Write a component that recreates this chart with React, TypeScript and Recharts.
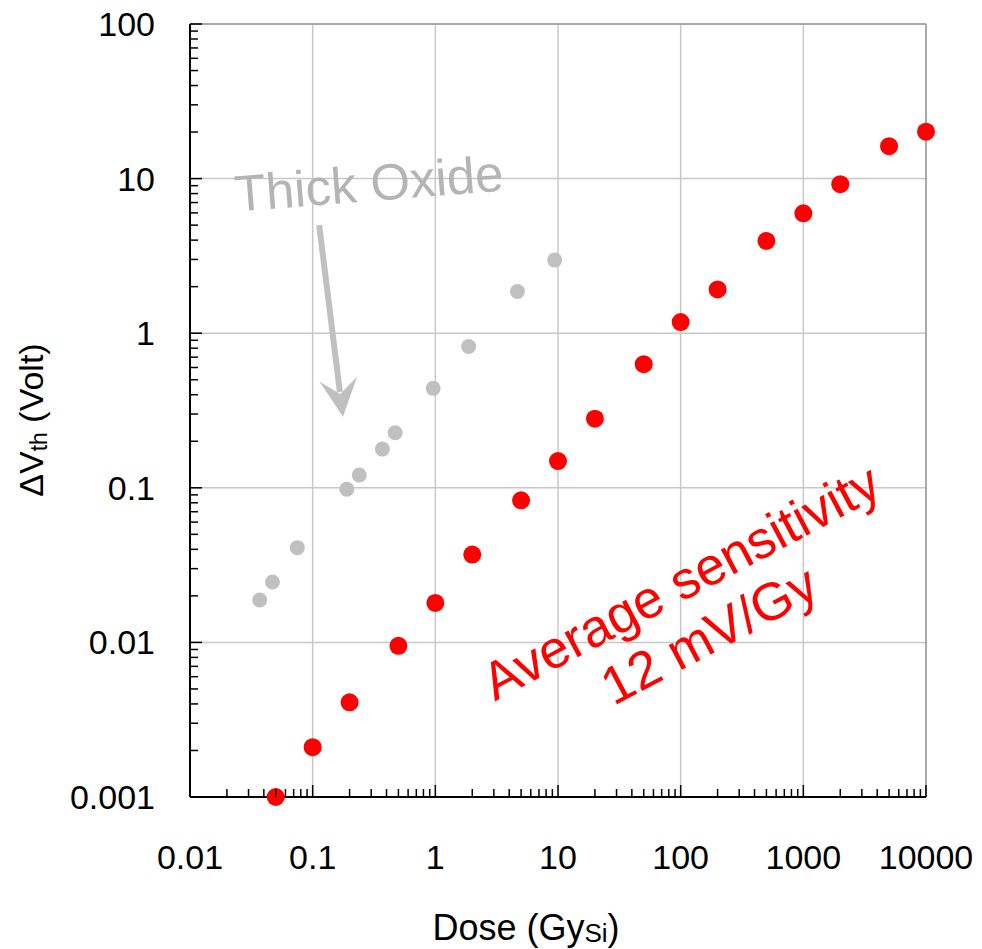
import { CartesianGrid, ReferenceDot, ReferenceLine, Scatter, ScatterChart, XAxis, YAxis } from "recharts";

const FONT = "Arial, 'Liberation Sans', sans-serif";

// axis decades
const xMajor = [0.01, 0.1, 1, 10, 100, 1000, 10000];
const yMajor = [0.001, 0.01, 0.1, 1, 10, 100];
const minorSteps = [2, 3, 4, 5, 6, 7, 8, 9];

// standard (red) series
const redDose = [0.05, 0.1, 0.2, 0.5, 1, 2, 5, 10, 20, 50, 100, 200, 500, 1000, 2000, 5000, 10000];
const redDvth = [0.001, 0.0021, 0.0041, 0.0095, 0.018, 0.037, 0.083, 0.149, 0.28, 0.63, 1.18, 1.92, 3.95, 5.96, 9.2, 16.2, 20.1];

// thick oxide (grey) series
const grayDose = [0.037, 0.047, 0.075, 0.19, 0.24, 0.37, 0.47, 0.96, 1.87, 4.67, 9.4];
const grayDvth = [0.0188, 0.0246, 0.041, 0.098, 0.121, 0.178, 0.227, 0.44, 0.82, 1.86, 2.97];

// annotations (data coords)
const oxideLabel = { text: "Thick Oxide", x: 0.295, y: 7.16 };
const oxideArrow = [{ x: 0.113, y: 5.0 }, { x: 0.1765, y: 0.288 }];
const sensLabel = { lines: ["Average sensitivity", "12 mV/Gy"], x: 118, y: 0.0194 };

const withMinor = (major: number[]) => {
  const out: number[] = [];
  major.forEach((m, i) => {
    out.push(m);
    if (i < major.length - 1) minorSteps.forEach((k) => out.push(+(m * k).toPrecision(6)));
  });
  return out;
};

const redData = redDose.map((d, i) => ({ dose: d, dvth: redDvth[i] }));
const grayData = grayDose.map((d, i) => ({ dose: d, dvth: grayDvth[i] }));

function XTick(props: any) {
  const { x, y, payload } = props;
  const major = xMajor.includes(payload.value);
  return (
    <g>
      <line x1={x} y1={y} x2={x} y2={y - (major ? 12 : 8)} stroke="#000" strokeWidth={1.5} />
      {major && (
        <text x={x} y={y + 60} textAnchor="middle" dominantBaseline="central" fontSize={34} fontFamily={FONT} fill="#000">
          {String(payload.value)}
        </text>
      )}
    </g>
  );
}

function YTick(props: any) {
  const { x, y, payload } = props;
  const major = yMajor.includes(payload.value);
  return (
    <g>
      <line x1={x} y1={y} x2={x + (major ? 12 : 8)} y2={y} stroke="#000" strokeWidth={1.5} />
      {major && (
        <text x={x - 35} y={y} textAnchor="end" dominantBaseline="central" fontSize={34} fontFamily={FONT} fill="#000">
          {String(payload.value)}
        </text>
      )}
    </g>
  );
}

function XTitle(props: any) {
  const vb = props.viewBox && props.viewBox.width ? props.viewBox : { x: 190, y: 797, width: 736 };
  return (
    <text x={vb.x + 336} y={vb.y + 130} textAnchor="middle" dominantBaseline="central" fontSize={36} fontFamily={FONT} fill="#000">
      Dose (Gy<tspan fontSize={26} dy={6}>Si</tspan>
      <tspan dy={-6}>)</tspan>
    </text>
  );
}

function YTitle(props: any) {
  const vb = props.viewBox && props.viewBox.height ? props.viewBox : { x: 130, y: 24, width: 60, height: 773 };
  const cx = vb.x + vb.width - 147;
  const cy = vb.y + 396;
  return (
    <text x={cx} y={cy} transform={`rotate(-90 ${cx} ${cy})`} textAnchor="middle" fontSize={34} fontFamily={FONT} fill="#000">
      ΔV<tspan fontSize={23} dy={4}>th</tspan>
      <tspan dy={-4}> (Volt)</tspan>
    </text>
  );
}

function Arrow(props: any) {
  const { x1, y1, x2, y2 } = props;
  const len = Math.hypot(x2 - x1, y2 - y1) || 1;
  const dx = (x2 - x1) / len;
  const dy = (y2 - y1) / len;
  const nx = -dy;
  const ny = dx;
  const back = 38;
  const half = 19;
  const notch = 23;
  const pts = [
    [x2, y2],
    [x2 - dx * back + nx * half, y2 - dy * back + ny * half],
    [x2 - dx * notch, y2 - dy * notch],
    [x2 - dx * back - nx * half, y2 - dy * back - ny * half],
  ];
  return (
    <g>
      <line x1={x1} y1={y1} x2={x2 - dx * (notch + 2)} y2={y2 - dy * (notch + 2)} stroke="#c0c0c0" strokeWidth={6} />
      <polygon points={pts.map((p) => p.join(",")).join(" ")} fill="#c0c0c0" />
    </g>
  );
}

export default function App() {
  return (
    <div style={{ position: "absolute", left: 0, top: 0, background: "#fff" }}>
      <ScatterChart width={982} height={949} margin={{ top: 24, right: 56, bottom: 92, left: 130 }}>
        <CartesianGrid horizontalValues={yMajor} verticalValues={xMajor} stroke="#c8c8c8" strokeWidth={1.5} />
        <XAxis
          type="number"
          dataKey="dose"
          scale="log"
          domain={[0.01, 10000]}
          ticks={withMinor(xMajor)}
          interval={0}
          height={60}
          tickSize={0}
          tickMargin={0}
          tickLine={false}
          tick={<XTick />}
          axisLine={{ stroke: "#000", strokeWidth: 2 }}
          label={(p: any) => <XTitle {...p} />}
        />
        <YAxis
          type="number"
          dataKey="dvth"
          scale="log"
          domain={[0.001, 100]}
          ticks={withMinor(yMajor)}
          interval={0}
          width={60}
          tickSize={0}
          tickMargin={0}
          tickLine={false}
          tick={<YTick />}
          axisLine={{ stroke: "#000", strokeWidth: 2 }}
          label={(p: any) => <YTitle {...p} />}
        />
        <ReferenceLine y={100} stroke="#9a9a9a" strokeWidth={1.5} />
        <ReferenceLine x={10000} stroke="#9a9a9a" strokeWidth={1.5} />
        <ReferenceLine segment={oxideArrow} shape={(p: any) => <Arrow {...p} />} />
        <ReferenceDot
          x={oxideLabel.x}
          y={oxideLabel.y}
          r={0}
          shape={(p: any) => (
            <text x={p.cx} y={p.cy} transform={`rotate(-4.5 ${p.cx} ${p.cy})`} textAnchor="middle" fontSize={51} fontFamily={FONT} fill="#b4b4b4">
              {oxideLabel.text}
            </text>
          )}
        />
        <ReferenceDot
          x={sensLabel.x}
          y={sensLabel.y}
          r={0}
          shape={(p: any) => (
            <g transform={`rotate(-28 ${p.cx} ${p.cy})`}>
              {sensLabel.lines.map((t, i) => (
                <text key={t} x={p.cx} y={p.cy + i * 60} textAnchor="middle" fontSize={53} fontFamily={FONT} fill="#ff0000">
                  {t}
                </text>
              ))}
            </g>
          )}
        />
        <Scatter
          data={grayData}
          isAnimationActive={false}
          shape={(p: any) => <circle cx={p.cx} cy={p.cy} r={7.5} fill="#c0c0c0" />}
        />
        <Scatter
          data={redData}
          isAnimationActive={false}
          shape={(p: any) => <circle cx={p.cx} cy={p.cy} r={9} fill="#ff0000" />}
        />
      </ScatterChart>
    </div>
  );
}
